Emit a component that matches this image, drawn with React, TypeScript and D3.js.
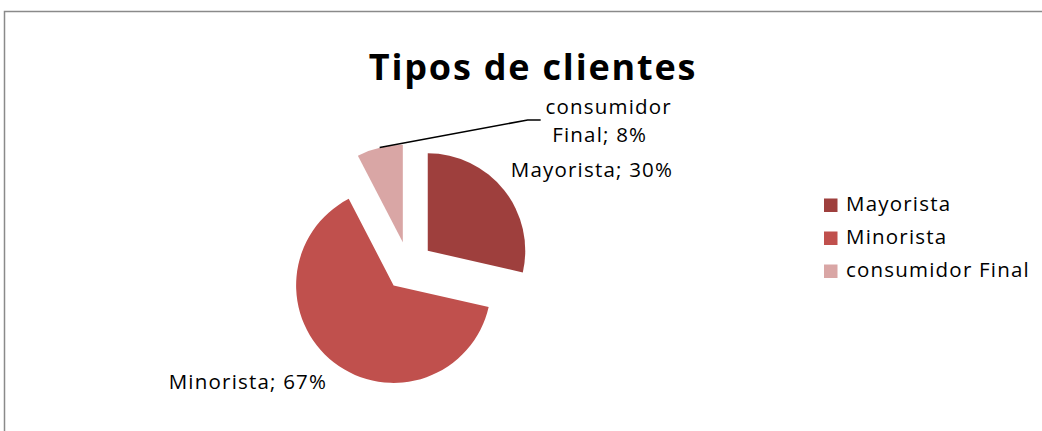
import React from "react";
import * as d3 from "d3";

const categories = ["Mayorista", "Minorista", "consumidor Final"];
const values = [30, 67, 8];
const colors = ["#9E3F3D", "#C0504D", "#D9A6A5"];
const labelLines = [["Mayorista; 30%"], ["Minorista; 67%"], ["consumidor", "Final; 8%"]];

const W = 1042;
const H = 431;
const cx = 408.6;
const cy = 266;
const radius = 97.5;
const explode = 24.5;
const font = "'Open Sans', Calibri, sans-serif";

// label offsets from each slice's outer mid point
const labelOffsets = [
  { dx: 88, dy: -13, leader: false },
  { dx: -86, dy: 26, leader: false },
  { dx: 229, dy: -33.5, leader: true },
];

const App = () => {
  const pie = d3.pie<number>().sort(null).startAngle(0).endAngle(2 * Math.PI);
  const arcs = pie(values);
  const arc = d3.arc<d3.PieArcDatum<number>>().innerRadius(0).outerRadius(radius);

  const legendY = d3.scalePoint<string>().domain(categories).range([205, 271]);

  return (
    <svg width={W} height={H} style={{ position: "absolute", left: 0, top: 0, background: "#fff" }}>
      <rect x={4.5} y={11.5} width={1100} height={500} fill="#fff" stroke="#8a8a8a" strokeWidth={1.5} />
      <text x={533} y={80} textAnchor="middle" fontFamily={font} fontWeight="bold" fontSize={36} letterSpacing={1.8} fill="#000">
        Tipos de clientes
      </text>

      {arcs.map((a, i) => {
        const mid = (a.startAngle + a.endAngle) / 2;
        const ux = Math.sin(mid);
        const uy = -Math.cos(mid);
        const sx = cx + explode * ux;
        const sy = cy + explode * uy;
        return (
          <path key={categories[i]} d={arc(a) || ""} transform={`translate(${sx},${sy})`} fill={colors[i]} />
        );
      })}

      {arcs.map((a, i) => {
        const mid = (a.startAngle + a.endAngle) / 2;
        const ux = Math.sin(mid);
        const uy = -Math.cos(mid);
        const ox = cx + (explode + radius) * ux;
        const oy = cy + (explode + radius) * uy;
        const off = labelOffsets[i];
        const lx = ox + off.dx;
        const ly = oy + off.dy;
        const lines = labelLines[i];
        return (
          <g key={"lab" + i}>
            {off.leader && (
              <polyline
                points={`${ox},${oy} ${lx - 81},${ly + 6} ${lx - 68},${ly + 6}`}
                fill="none"
                stroke="#000"
                strokeWidth={1.5}
              />
            )}
            {lines.map((t, j) => (
              <text
                key={j}
                x={lx - (j > 0 ? 9 : 0)}
                y={ly + j * 28.5}
                textAnchor="middle"
                fontFamily={font}
                fontSize={20.5}
                letterSpacing={1.2}
                fill="#000"
              >
                {t}
              </text>
            ))}
          </g>
        );
      })}

      {categories.map((c, i) => {
        const y = legendY(c) || 0;
        return (
          <g key={"leg" + i}>
            <rect x={824} y={y - 6.5} width={13.5} height={13.5} fill={colors[i]} />
            <text x={846} y={y + 6} fontFamily={font} fontSize={20.5} letterSpacing={1.2} fill="#000">
              {c}
            </text>
          </g>
        );
      })}
    </svg>
  );
};

export default App;
